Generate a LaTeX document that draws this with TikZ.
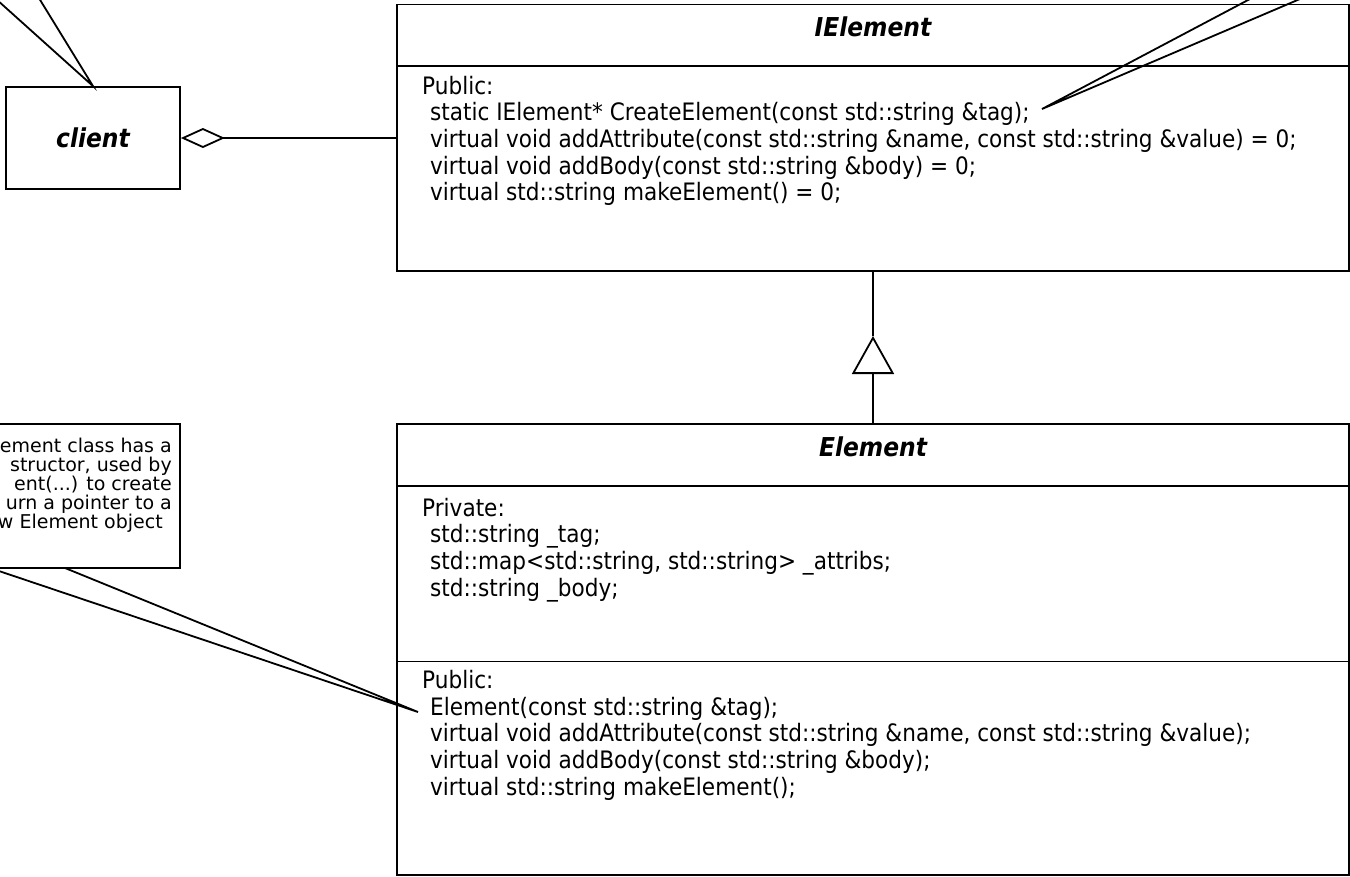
\documentclass[tikz,border=0pt]{standalone}
\usepackage{fontspec}
\setmainfont{DejaVu Sans}[FakeStretch=0.9]
\newfontfamily\notefont{DejaVu Sans}
\usetikzlibrary{arrows.meta}
\begin{document}
\begin{tikzpicture}[x=1pt,y=-1pt,
  box/.style={draw, line width=1.8pt, fill=white, inner sep=0pt},
  member/.style={anchor=base west, inner sep=0pt, font=\fontsize{24}{26}\selectfont},
  classtitle/.style={anchor=base, inner sep=0pt, font=\fontsize{26}{30}\selectfont\bfseries\itshape},
  notetext/.style={anchor=base east, inner sep=0pt, font=\notefont\fontsize{19}{21}\selectfont},
  conn/.style={line width=1.8pt}]
\useasboundingbox (0,0) rectangle (1350,876);
\fill[white] (0,0) rectangle (1350,876);
\clip (0,0) rectangle (1350,876);

% IElement class
\node[box, minimum width=952pt, minimum height=266.5pt] (iel) at (873,137.75) {};
\coordinate (ielhl) at (397,66);
\coordinate (ielhr) at (1349,66);
\draw[conn] (ielhl) -- (ielhr);
\node[classtitle] (ieltitle) at (873,36) {IElement};
\node[member] (ielpub) at (422,94) {Public:};
\node[member] (ielm1) at (430,120.7) {static IElement* CreateElement(const std::string \&tag);};
\node[member] (ielm2) at (430,147.4) {virtual void addAttribute(const std::string \&name, const std::string \&value) = 0;};
\node[member] (ielm3) at (430,174) {virtual void addBody(const std::string \&body) = 0;};
\node[member] (ielm4) at (430,200.8) {virtual std::string makeElement() = 0;};

% Element class
\node[box, minimum width=952pt, minimum height=451pt] (el) at (873,649.5) {};
\coordinate (elhl) at (397,486);
\coordinate (elhr) at (1349,486);
\coordinate (eldl) at (397,661.5);
\coordinate (eldr) at (1349,661.5);
\draw[conn] (elhl) -- (elhr);
\draw[conn] (eldl) -- (eldr);
\node[classtitle] (eltitle) at (873,456) {Element};
\node[member] (elpriv) at (422,516) {Private:};
\node[member] (ela1) at (430,542.7) {std::string \_tag;};
\node[member] (ela2) at (430,569.4) {std::map<std::string, std::string> \_attribs;};
\node[member] (ela3) at (430,596) {std::string \_body;};
\node[member] (elpub) at (422,688.5) {Public:};
\node[member] (elm1) at (430,715.2) {Element(const std::string \&tag);};
\node[member] (elm2) at (430,741.9) {virtual void addAttribute(const std::string \&name, const std::string \&value);};
\node[member] (elm3) at (430,768.6) {virtual void addBody(const std::string \&body);};
\node[member] (elm4) at (430,795.3) {virtual std::string makeElement();};

% client
\node[box, minimum width=174pt, minimum height=102pt] (client) at (93,138) {};
\node[classtitle] (clienttitle) at (93,147) {client};

% aggregation client <>-- IElement
\draw[conn, {Diamond[open, length=44pt, width=20pt]}-] (client.east) -- (client.east -| iel.west);

% generalization Element --|> IElement
\coordinate (apex) at (873,336);
\draw[conn, -{Triangle[open, length=38pt, width=42pt]}] (el.north) -- (apex);
\draw[conn] (apex) -- (iel.south);

% note (bottom left), partly outside the picture
\node[box, minimum width=380pt, minimum height=144pt] (note) at (-10,496) {};
\node[notetext] (nt1) at (172,452) {ement class has a};
\node[notetext] (nt2) at (172,471) {structor, used by};
\node[notetext] (nt3) at (172,490) {ent(...) to create};
\node[notetext] (nt4) at (172,509) {urn a pointer to a};
\node[notetext] (nt5) at (163,528) {w Element object};
\coordinate (notea) at (65,568);
\coordinate (noteb) at (-10,568);
\coordinate (notetip) at (418,712);
\draw[conn] (notea) -- (notetip) -- (noteb);

% callout to top-right note (outside the picture)
\coordinate (trtip) at (1042,109);
\coordinate (tra) at (1267,-10);
\coordinate (trb) at (1321,-10);
\draw[conn] (tra) -- (trtip) -- (trb);

% callout from top-left note (outside the picture) to client
\coordinate (tla) at (-14,-10);
\coordinate (tlb) at (34,-10);
\draw[conn] (tla) -- (client.north) -- (tlb);
\end{tikzpicture}
\end{document}
